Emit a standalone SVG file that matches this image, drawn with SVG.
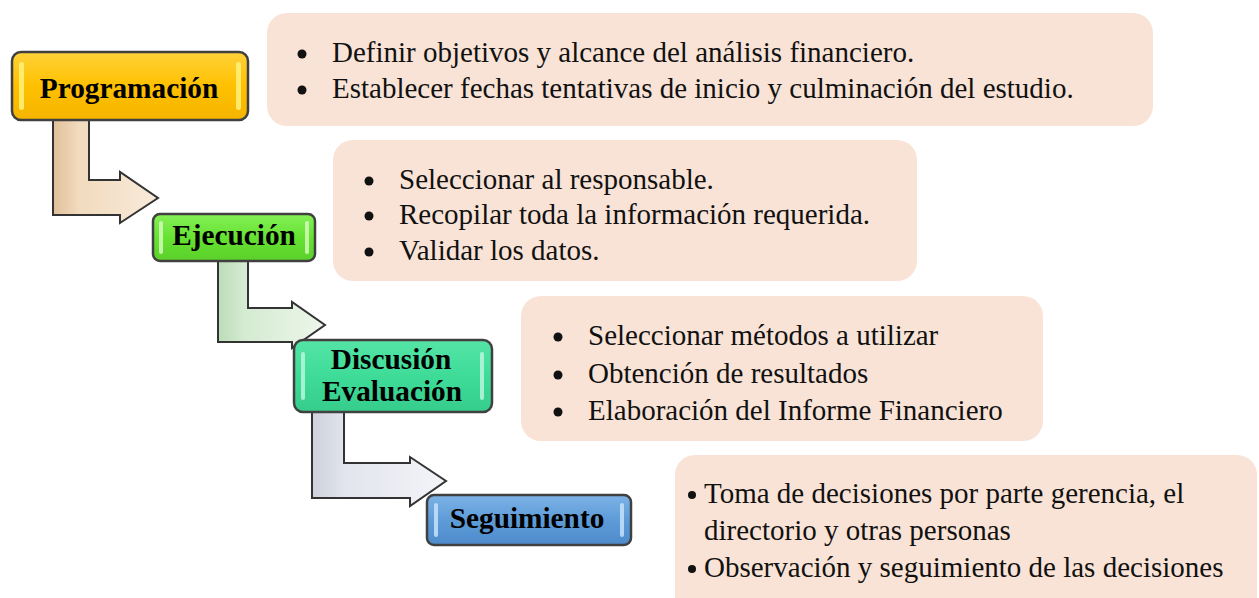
<svg xmlns="http://www.w3.org/2000/svg" width="1259" height="598" viewBox="0 0 1259 598">
<defs>
<style>
.box{fill:#F9E3D6}
.txt{font-family:"Liberation Serif","Times New Roman",serif;font-size:29px;fill:#111}
.lbl{font-family:"Liberation Serif","Times New Roman",serif;font-size:29.3px;font-weight:bold;fill:#000;text-anchor:middle}
.node{stroke:#404040;stroke-width:2.5}
.arrow{stroke:#333;stroke-width:2;stroke-linejoin:miter}
.hl{opacity:0.85}
.dot{fill:#111}
</style>
<linearGradient id="gOrange" x1="0" y1="0" x2="0" y2="1">
<stop offset="0" stop-color="#FFD23A"/><stop offset="0.5" stop-color="#FFC000"/><stop offset="1" stop-color="#F5B400"/>
</linearGradient>
<linearGradient id="gGreen" x1="0" y1="0" x2="0" y2="1">
<stop offset="0" stop-color="#86F058"/><stop offset="0.5" stop-color="#66E232"/><stop offset="1" stop-color="#5AD02A"/>
</linearGradient>
<linearGradient id="gMint" x1="0" y1="0" x2="0" y2="1">
<stop offset="0" stop-color="#55E4A6"/><stop offset="0.5" stop-color="#3EDC98"/><stop offset="1" stop-color="#36CC8C"/>
</linearGradient>
<linearGradient id="gBlue" x1="0" y1="0" x2="0" y2="1">
<stop offset="0" stop-color="#7DB2E6"/><stop offset="0.5" stop-color="#5E9CD8"/><stop offset="1" stop-color="#4E8ACB"/>
</linearGradient>
<linearGradient id="aTan" x1="0" y1="0" x2="1" y2="0">
<stop offset="0" stop-color="#E0C09A"/><stop offset="0.25" stop-color="#F2DBBE"/><stop offset="1" stop-color="#F8EADA"/>
</linearGradient>
<linearGradient id="aGreen" x1="0" y1="0" x2="1" y2="0">
<stop offset="0" stop-color="#BCDCB8"/><stop offset="0.25" stop-color="#D5EBD2"/><stop offset="1" stop-color="#EDF6EB"/>
</linearGradient>
<linearGradient id="aGray" x1="0" y1="0" x2="1" y2="0">
<stop offset="0" stop-color="#CDD1DC"/><stop offset="0.25" stop-color="#E2E5ED"/><stop offset="1" stop-color="#F3F4F8"/>
</linearGradient>
</defs>
<rect width="1259" height="598" fill="#ffffff"/>

<g id="connectors">
<path class="arrow" fill="url(#aTan)" d="M53,120 L89,120 L89,180 L120,180 L120,172 L158,198 L120,223 L120,215 L53,215 Z"/>
<path class="arrow" fill="url(#aGreen)" d="M218,261 L248,261 L248,308 L292,308 L292,302 L325,325 L292,348 L292,342 L218,342 Z"/>
<path class="arrow" fill="url(#aGray)" d="M312,412 L344,412 L344,463 L410,463 L410,457 L446,481 L410,506 L410,498 L312,498 Z"/>
</g>

<g id="node-programacion">
<rect class="node" x="12" y="52" width="236" height="68" rx="9" fill="url(#gOrange)"/>
<rect class="hl" x="19" y="62" width="5" height="48" rx="2.5" fill="#FFF27A"/>
<rect class="hl" x="236" y="62" width="5" height="48" rx="2.5" fill="#FFF27A"/>
<text class="lbl" x="129" y="98">Programación</text>
</g>

<g id="node-ejecucion">
<rect class="node" x="153" y="214" width="162" height="47" rx="7" fill="url(#gGreen)"/>
<rect class="hl" x="159" y="221" width="4" height="33" rx="2" fill="#D2FAB8"/>
<rect class="hl" x="305" y="221" width="4" height="33" rx="2" fill="#D2FAB8"/>
<text class="lbl" x="234" y="245">Ejecución</text>
</g>

<g id="node-discusion">
<rect class="node" x="294" y="340" width="198" height="72" rx="9" fill="url(#gMint)"/>
<rect class="hl" x="301" y="352" width="4" height="48" rx="2" fill="#B8F6DC"/>
<rect class="hl" x="480" y="352" width="4" height="48" rx="2" fill="#B8F6DC"/>
<text class="lbl" x="391" y="369">Discusión</text>
<text class="lbl" x="392" y="401">Evaluación</text>
</g>

<g id="node-seguimiento">
<rect class="node" x="427" y="495" width="204" height="50" rx="7" fill="url(#gBlue)"/>
<rect class="hl" x="434" y="503" width="4" height="34" rx="2" fill="#C6E2FA"/>
<rect class="hl" x="620" y="503" width="4" height="34" rx="2" fill="#C6E2FA"/>
<text class="lbl" x="527" y="528">Seguimiento</text>
</g>

<g id="note-1">
<rect class="box" x="267" y="13" width="886" height="113" rx="20"/>
<circle class="dot" cx="302" cy="54" r="4.5"/>
<circle class="dot" cx="302" cy="90" r="4.5"/>
<text class="txt" x="332" y="62">Definir objetivos y alcance del análisis financiero.</text>
<text class="txt" x="332" y="98">Establecer fechas tentativas de inicio y culminación del estudio.</text>
</g>

<g id="note-2">
<rect class="box" x="333" y="140" width="584" height="141" rx="20"/>
<circle class="dot" cx="369" cy="181" r="4.5"/>
<circle class="dot" cx="369" cy="216" r="4.5"/>
<circle class="dot" cx="369" cy="252" r="4.5"/>
<text class="txt" x="399" y="189">Seleccionar al responsable.</text>
<text class="txt" x="399" y="224">Recopilar toda la información requerida.</text>
<text class="txt" x="399" y="260">Validar los datos.</text>
</g>

<g id="note-3">
<rect class="box" x="521" y="296" width="522" height="145" rx="20"/>
<circle class="dot" cx="558" cy="337" r="4.5"/>
<circle class="dot" cx="558" cy="375" r="4.5"/>
<circle class="dot" cx="558" cy="412" r="4.5"/>
<text class="txt" x="588" y="345">Seleccionar métodos a utilizar</text>
<text class="txt" x="588" y="383">Obtención de resultados</text>
<text class="txt" x="588" y="420">Elaboración del Informe Financiero</text>
</g>

<g id="note-4">
<rect class="box" x="675" y="455" width="582" height="170" rx="20"/>
<circle class="dot" cx="692" cy="495" r="4"/>
<circle class="dot" cx="692" cy="569" r="4"/>
<text class="txt" x="704" y="503">Toma de decisiones por parte gerencia, el</text>
<text class="txt" x="704" y="540">directorio y otras personas</text>
<text class="txt" x="704" y="577">Observación y seguimiento de las decisiones</text>
</g>
</svg>
